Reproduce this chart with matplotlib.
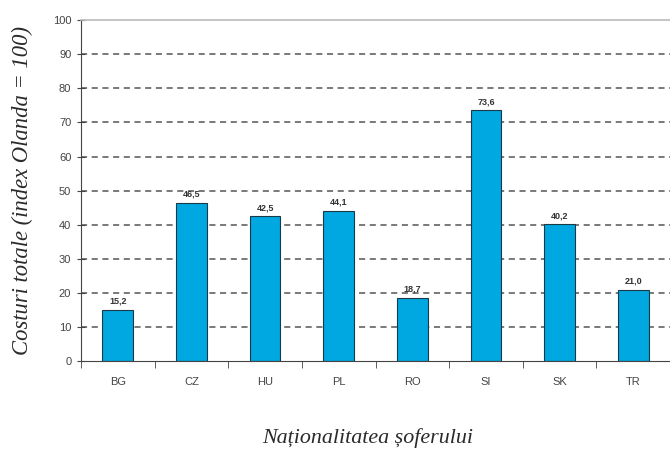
import matplotlib.pyplot as plt
import numpy as np

countries = ['BG', 'CZ', 'HU', 'PL', 'RO', 'SI', 'SK', 'TR']
costs = [15.2, 46.5, 42.5, 44.1, 18.7, 73.6, 40.2, 21.0]
y_ticks = [0, 10, 20, 30, 40, 50, 60, 70, 80, 90, 100]

fig = plt.figure(figsize=(6.7, 4.49), dpi=100)
ax = fig.add_axes([0.1209, 0.1949, 0.8791, 0.7606])

x = np.arange(len(countries))
ax.bar(x, costs, width=0.417, color='#00a8e1', edgecolor='#1a3a4a', linewidth=0.8, zorder=3)

for xi, v in zip(x, costs):
    ax.text(xi, v + 1.2, f'{v:.1f}'.replace('.', ','), ha='center', va='bottom',
            fontsize=6.5, fontweight='bold', color='#333333', family='Liberation Sans')

ax.set_xlim(-0.5, 7.43)
ax.set_ylim(0, 100)
ax.set_yticks(y_ticks)
ax.set_xticks(x)
ax.set_xticklabels(countries)
ax.set_xticks(np.arange(-0.5, 8, 1), minor=True)
ax.tick_params(axis='x', which='major', length=0, pad=11)
ax.tick_params(axis='x', which='minor', length=5, direction='out', color='#444444')
ax.tick_params(axis='y', length=6, direction='inout', color='#444444', pad=4)
for lab in ax.get_xticklabels() + ax.get_yticklabels():
    lab.set_family('Liberation Sans')
    lab.set_fontsize(8)
    lab.set_color('#444444')

# dashed grid only between the axis line and the top border
ax.yaxis.grid(True, linestyle=(0, (4, 3)), color='#555555', linewidth=1.1, zorder=0)
grid = ax.yaxis.get_gridlines()
grid[0].set_visible(False)
grid[-1].set_visible(False)

ax.spines['right'].set_visible(False)
ax.spines['top'].set_color('#bbbbbb')
ax.spines['top'].set_linewidth(1.2)
ax.spines['left'].set_color('#444444')
ax.spines['bottom'].set_color('#444444')
ax.spines['bottom'].set_zorder(4)

fig.text(0.033, 0.575, 'Costuri totale (index Olanda = 100)', rotation=90, ha='center', va='center',
         fontsize=16.3, style='italic', family='Liberation Serif', color='#2a2a2a')
fig.text(0.5485, 0.0134, 'Naționalitatea șoferului', ha='center', va='baseline',
         fontsize=15.8, style='italic', family='Liberation Serif', color='#2a2a2a')

fig.savefig('out.png', dpi=100)
